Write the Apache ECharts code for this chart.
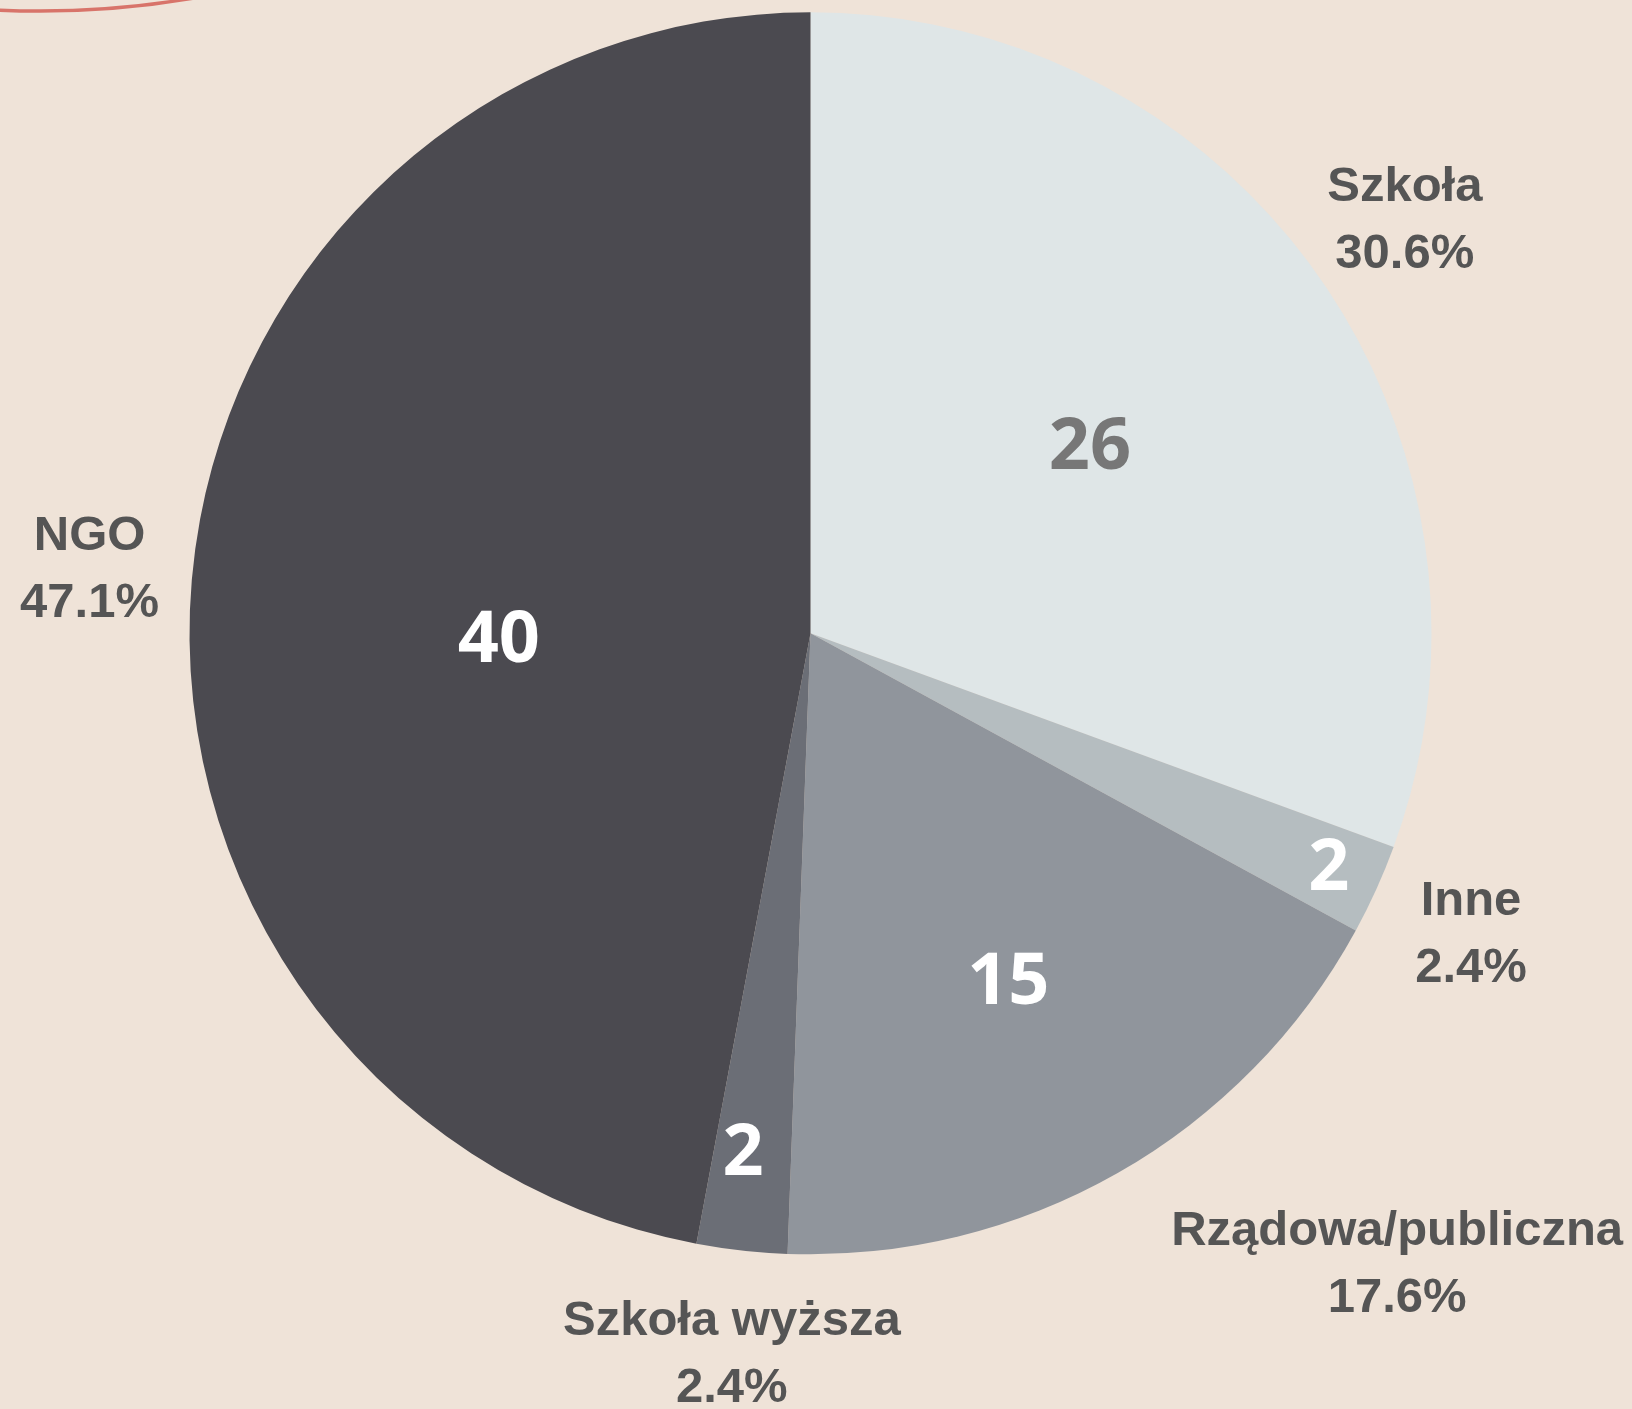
<!DOCTYPE html>
<html>
<head>
<meta charset="utf-8">
<title>index</title>
<script src="https://cdn.jsdelivr.net/npm/echarts@6/dist/echarts.min.js"></script>
<style>
  html, body { margin: 0; padding: 0; background: #efe3d8; }
  #chart { width: 1632px; height: 1409px; }
</style>
</head>
<body>
<div id="chart"></div>
<script>
var categories = ['Szkoła', 'Inne', 'Rządowa/publiczna', 'Szkoła wyższa', 'NGO'];
var counts = [26, 2, 15, 2, 40];
var sliceColors = ['#dfe6e7', '#b5bdc0', '#90959c', '#6b6e76', '#4b4a50'];

var total = counts.reduce(function (a, b) { return a + b; }, 0);
var pieCenter = [810.5, 633.3];
var pieRadius = 621;

// transparent copy of the pie, used only to place labels at a given radius
function labelRing(dist, shown, style) {
  return {
    type: 'pie', silent: true, z: 3, animation: false,
    center: pieCenter, radius: [dist - 4, dist + 4],
    startAngle: 90, clockwise: true,
    avoidLabelOverlap: false,
    itemStyle: { color: 'rgba(0,0,0,0)', borderWidth: 0 },
    labelLine: { show: false },
    emphasis: { disabled: true },
    label: Object.assign({ show: true, position: 'inside', overflow: 'none' }, style),
    data: categories.map(function (name, i) {
      var extra = shown[i];
      return {
        name: name, value: counts[i],
        label: extra ? Object.assign({ show: true }, extra) : { show: false }
      };
    })
  };
}

var outerFont = {
  fontFamily: 'Liberation Sans', fontWeight: 'bold', fontSize: 49,
  color: '#555555', align: 'center', verticalAlign: 'middle'
};
// two lines 67px apart; unequal line heights nudge the pair up/down
function outerRich(l1, l2) {
  return {
    t: Object.assign({ lineHeight: l1 }, outerFont),
    p: Object.assign({ lineHeight: l2 }, outerFont)
  };
}
var outerStyle = Object.assign({}, outerFont, {
  rich: outerRich(73, 61),
  formatter: function (p) {
    return '{t|' + p.name + '}\n{p|' + (p.value / total * 100).toFixed(1) + '%}';
  }
});
var innerStyle = {
  fontFamily: 'Open Sans', fontWeight: 'bold', fontSize: 72,
  color: '#ffffff', align: 'center', verticalAlign: 'middle',
  formatter: '{c}'
};

var chart = echarts.init(document.getElementById('chart'));
chart.setOption({
  backgroundColor: '#efe3d8',
  graphic: [{
    type: 'circle', silent: true,
    shape: { cx: 40, cy: -900, r: 911 },
    style: { fill: 'none', stroke: '#d8746a', lineWidth: 3.5 }
  }],
  series: [
    {
      type: 'pie', animation: false,
      center: pieCenter, radius: pieRadius,
      startAngle: 90, clockwise: true,
      label: { show: false }, labelLine: { show: false },
      itemStyle: { borderWidth: 0 },
      data: categories.map(function (name, i) {
        return { name: name, value: counts[i], itemStyle: { color: sliceColors[i] } };
      })
    },
    labelRing(722, { 0: {}, 1: {} }, outerStyle),
    labelRing(721, { 4: {} }, outerStyle),
    labelRing(708, { 3: { rich: outerRich(97, 36) } }, outerStyle),
    labelRing(724, { 2: { rich: outerRich(67, 67), padding: [0, 0, 0, 454] } }, outerStyle),
    labelRing(338, { 0: { color: '#777777', formatter: '\n{c}', lineHeight: 20 } }, innerStyle),
    labelRing(397, { 2: { formatter: '\n{c}', lineHeight: 6 } }, innerStyle),
    labelRing(566, { 1: { formatter: '\n{c}', lineHeight: 4 } }, innerStyle),
    labelRing(521, { 3: { padding: [0, 19, 0, 0] } }, innerStyle),
    labelRing(310, { 4: { formatter: '\n{c}', lineHeight: 74 } }, innerStyle)
  ]
});
</script>
</body>
</html>
